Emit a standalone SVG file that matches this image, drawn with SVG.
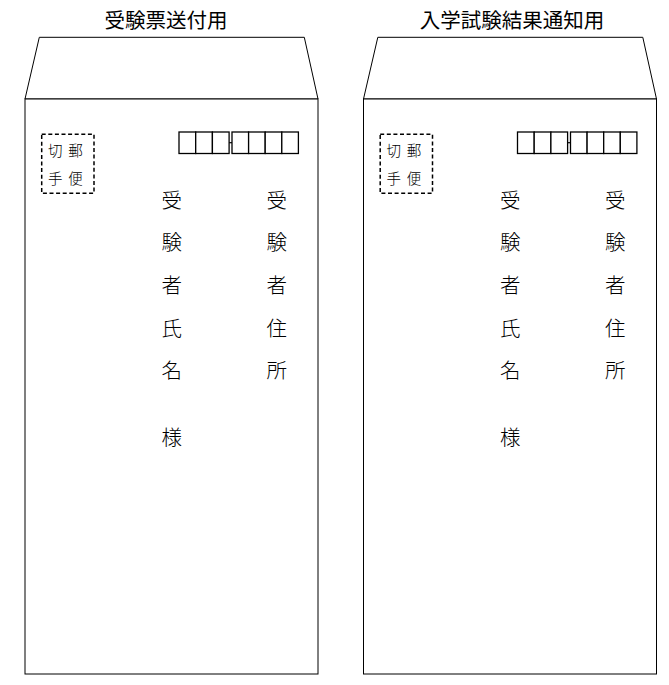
<svg xmlns="http://www.w3.org/2000/svg" width="669" height="685" viewBox="0 0 669 685">
<style>
.env{fill:#fff;stroke:#000;stroke-width:1}
.title{font-family:"Noto Sans CJK JP","Noto Sans",sans-serif;font-size:20.5px;fill:#000;text-anchor:middle}
.stamp{fill:none;stroke:#000;stroke-width:1.5;stroke-dasharray:4 2.6}
.st{font-family:"Noto Sans CJK JP",sans-serif;font-size:14.5px;font-weight:300;fill:#000;text-anchor:middle}
.body{font-family:"Noto Sans CJK JP",sans-serif;font-size:20.5px;font-weight:300;fill:#000;text-anchor:middle}
.zip{fill:#fff;stroke:#000;stroke-width:1.3}
</style>
<defs>
<g id="envelope">
  <polygon class="env" points="25,99 39.3,37.3 304.3,37.3 318,99"/>
  <rect class="env" x="25" y="99" width="293" height="575"/>
  <g class="stampbox">
    <rect class="stamp" x="41.7" y="134.3" width="52.3" height="59"/>
    <text class="st" x="55.3" y="155.5">切</text>
    <text class="st" x="75.5" y="155.5">郵</text>
    <text class="st" x="55.3" y="183.5">手</text>
    <text class="st" x="75.5" y="183.5">便</text>
  </g>
  <g class="zipcode">
    <rect class="zip" x="179" y="132" width="16.7" height="21.5"/>
    <rect class="zip" x="195.7" y="132" width="16.7" height="21.5"/>
    <rect class="zip" x="212.4" y="132" width="16.7" height="21.5"/>
    <line x1="229.1" y1="142.7" x2="232" y2="142.7" stroke="#000" stroke-width="1.2"/>
    <rect class="zip" x="232" y="132" width="16.6" height="21.5"/>
    <rect class="zip" x="248.6" y="132" width="16.6" height="21.5"/>
    <rect class="zip" x="265.2" y="132" width="16.6" height="21.5"/>
    <rect class="zip" x="281.8" y="132" width="16.6" height="21.5"/>
  </g>
  <g class="name">
    <text class="body" x="171.7" y="208">受</text>
    <text class="body" x="171.7" y="250">験</text>
    <text class="body" x="171.7" y="293">者</text>
    <text class="body" x="171.7" y="335.5">氏</text>
    <text class="body" x="171.7" y="378">名</text>
    <text class="body" x="171.7" y="445">様</text>
  </g>
  <g class="address">
    <text class="body" x="276.7" y="208">受</text>
    <text class="body" x="276.7" y="250">験</text>
    <text class="body" x="276.7" y="293">者</text>
    <text class="body" x="276.7" y="335.5">住</text>
    <text class="body" x="276.7" y="378">所</text>
  </g>
</g>
</defs>
<rect width="669" height="685" fill="#fff"/>
<g id="envelope-ticket">
  <text class="title" x="166" y="27.5">受験票送付用</text>
  <use href="#envelope"/>
</g>
<g id="envelope-result">
  <text class="title" x="512" y="27.5">入学試験結果通知用</text>
  <use href="#envelope" transform="translate(338.5,0)"/>
</g>
</svg>
